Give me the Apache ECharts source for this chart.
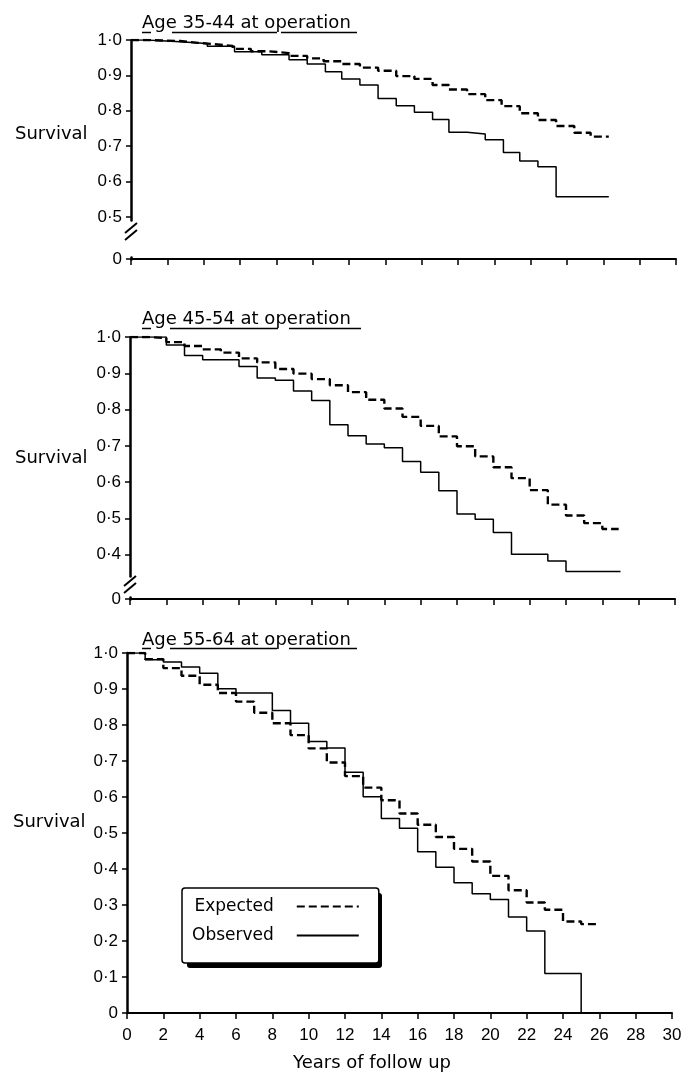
<!DOCTYPE html>
<html>
<head>
<meta charset="utf-8">
<script src="https://cdn.jsdelivr.net/npm/echarts@6.0.0/dist/echarts.min.js"></script>
<style>
  html, body { margin: 0; padding: 0; background: #fff; }
  #chart { width: 693px; height: 1073px; }
</style>
</head>
<body>
<div id="chart"></div>
<script>
// survival curves, three age groups
// age 35-44
var tExp35 = [0, 0.9, 2.7, 3.7, 4.6, 5.6, 6.6, 7.6, 8.7, 9.7, 10.6, 11.6, 12.6, 13.6, 14.6, 15.6, 16.6, 17.5, 18.5, 19.5, 20.4, 21.4, 22.4, 23.4, 24.4, 25.3, 26.3];
var sExp35 = [1.0, 0.997, 0.992, 0.988, 0.983, 0.975, 0.968, 0.963, 0.955, 0.948, 0.940, 0.932, 0.922, 0.913, 0.898, 0.890, 0.873, 0.860, 0.847, 0.830, 0.813, 0.793, 0.774, 0.757, 0.738, 0.727, 0.727];
var tObs35 = [0, 0.9, 2.7, 4.2, 5.7, 7.2, 8.7, 9.7, 10.7, 11.6, 12.6, 13.6, 14.6, 15.6, 16.6, 17.5, 18.5, 19.5, 20.5, 21.4, 22.4, 23.4, 26.3];
var sObs35 = [1.0, 0.995, 0.990, 0.982, 0.967, 0.958, 0.944, 0.932, 0.910, 0.890, 0.873, 0.835, 0.814, 0.796, 0.775, 0.739, 0.734, 0.718, 0.682, 0.658, 0.642, 0.557, 0.557];
// age 45-54
var tExp45 = [0, 1, 2, 3, 4, 5, 6, 7, 8, 9, 10, 11, 12, 13, 14, 15, 16, 17, 18, 19, 20, 21, 22, 23, 24, 25, 26, 26.9];
var sExp45 = [1.0, 0.997, 0.986, 0.975, 0.966, 0.957, 0.941, 0.930, 0.912, 0.899, 0.884, 0.867, 0.848, 0.827, 0.803, 0.780, 0.755, 0.726, 0.699, 0.671, 0.641, 0.611, 0.578, 0.538, 0.508, 0.487, 0.471, 0.471];
var tObs45 = [0, 2, 3, 4, 6, 7, 8, 9, 10, 11, 12, 13, 14, 15, 16, 17, 18, 19, 20, 21, 23, 24, 27];
var sObs45 = [1.0, 0.978, 0.949, 0.937, 0.919, 0.887, 0.881, 0.851, 0.825, 0.758, 0.728, 0.705, 0.695, 0.657, 0.627, 0.576, 0.512, 0.498, 0.461, 0.401, 0.383, 0.354, 0.354];
// age 55-64
var tExp55 = [0, 1, 2, 3, 4, 5, 6, 7, 8, 9, 10, 11, 12, 13, 14, 15, 16, 17, 18, 19, 20, 21, 22, 23, 24, 25, 26];
var sExp55 = [1.0, 0.983, 0.958, 0.937, 0.912, 0.889, 0.865, 0.834, 0.805, 0.772, 0.735, 0.696, 0.658, 0.626, 0.591, 0.554, 0.523, 0.489, 0.456, 0.421, 0.381, 0.341, 0.307, 0.287, 0.254, 0.247, 0.247];
var tObs55 = [0, 1, 2, 3, 4, 5, 6, 8, 9, 10, 11, 12, 13, 14, 15, 16, 17, 18, 19, 20, 21, 22, 23, 25, 26];
var sObs55 = [1.0, 0.981, 0.975, 0.961, 0.944, 0.901, 0.889, 0.840, 0.805, 0.754, 0.736, 0.669, 0.601, 0.540, 0.513, 0.448, 0.405, 0.362, 0.331, 0.315, 0.267, 0.228, 0.110, 0, 0];

// y tick values shown on each panel (the broken axes skip the low part)
var yTicks35 = [0, 0.5, 0.6, 0.7, 0.8, 0.9, 1.0];
var yTicks45 = [0, 0.4, 0.5, 0.6, 0.7, 0.8, 0.9, 1.0];
var yTicks55 = [0, 0.1, 0.2, 0.3, 0.4, 0.5, 0.6, 0.7, 0.8, 0.9, 1.0];

var panelTitles = ['Age 35-44 at operation', 'Age 45-54 at operation', 'Age 55-64 at operation'];

var wordFont = "'DejaVu Sans', sans-serif";
var numFont = "'Liberation Sans', 'DejaVu Sans', sans-serif";

var zip = function (t, s) {
  var out = [];
  for (var i = 0; i < t.length; i++) out.push([t[i], s[i]]);
  return out;
};

var yLabel = function (v) {
  if (v < 0.01) return '0';
  return v.toFixed(1).replace('.', '\u00b7');
};

var makeX = function (idx, showLabels) {
  return {
    type: 'value', gridIndex: idx, min: 0, max: 30, interval: 2,
    axisLine: { show: true, onZero: false, lineStyle: { color: '#000', width: 2 } },
    axisTick: { show: true, length: 6, lineStyle: { color: '#000', width: 1.5 } },
    axisLabel: { show: showLabels, color: '#000', fontFamily: numFont, fontSize: 17, margin: 14 },
    splitLine: { show: false }
  };
};

var makeY = function (idx, ticks, brk) {
  var ax = {
    type: 'value', gridIndex: idx, min: 0, max: 1, interval: 0.1,
    axisLine: { show: true, lineStyle: { color: '#000', width: 2.5 } },
    axisTick: { show: true, length: 5, customValues: ticks, lineStyle: { color: '#000', width: 1.5 } },
    axisLabel: {
      color: '#000', fontFamily: numFont, fontSize: 17, margin: 9,
      customValues: ticks, hideOverlap: false, formatter: yLabel
    },
    splitLine: { show: false }
  };
  if (brk) {
    ax.breaks = [brk];
    ax.breakArea = { show: false };
  }
  return ax;
};

var expStyle = { color: '#000', width: 2.4, type: [8, 4] };
var obsStyle = { color: '#000', width: 1.5, type: 'solid' };

var makeSeries = function (name, idx, t, s, style) {
  return {
    type: 'line', name: name, xAxisIndex: idx, yAxisIndex: idx,
    step: 'end', symbol: 'none', showSymbol: false, silent: true,
    lineStyle: style, itemStyle: { color: '#000' },
    data: zip(t, s)
  };
};

// little "//" mark where the y axis is broken
var breakMark = function (x, yc) {
  return {
    type: 'group',
    children: [
      { type: 'rect', shape: { x: x - 4, y: yc - 7, width: 8, height: 14 }, style: { fill: '#fff' }, z: 100 },
      { type: 'line', shape: { x1: x - 6, y1: yc + 1, x2: x + 6, y2: yc - 9 }, style: { stroke: '#000', lineWidth: 2 }, z: 101 },
      { type: 'line', shape: { x1: x - 6, y1: yc + 8, x2: x + 6, y2: yc - 2 }, style: { stroke: '#000', lineWidth: 2 }, z: 101 }
    ]
  };
};

var textEl = function (txt, x, y, size, align) {
  return {
    type: 'text', x: x, y: y, z: 50,
    style: { text: txt, font: size + 'px ' + wordFont, fill: '#000', align: align || 'left', verticalAlign: 'middle' }
  };
};

var underline = function (y, segs) {
  return segs.map(function (sg) {
    return { type: 'line', shape: { x1: sg[0], y1: y, x2: sg[1], y2: y }, style: { stroke: '#000', lineWidth: 1.5 }, z: 50 };
  });
};

var chart = echarts.init(document.getElementById('chart'), null, { renderer: 'canvas' });

var graphics = [
  textEl(panelTitles[0], 142, 23, 18),
  textEl(panelTitles[1], 142, 319, 18),
  textEl(panelTitles[2], 142, 640, 18),
  textEl('Survival', 15, 134, 18),
  textEl('Survival', 15, 458, 18),
  textEl('Survival', 13, 822, 18),
  textEl('Years of follow up', 372, 1063, 18, 'center'),
  breakMark(131, 232),
  breakMark(130, 585),
  // solid drop shadow behind the legend box
  { type: 'rect', shape: { x: 187, y: 893, width: 195, height: 75, r: 3 }, style: { fill: '#000' }, z: 0 }
]
  .concat(underline(32.5, [[142, 151], [172, 277], [281, 357]]))
  .concat(underline(328.5, [[142, 151], [170, 278], [289, 361]]))
  .concat(underline(648.5, [[142, 151], [170, 277], [289, 357]]));

var option = {
  animation: false,
  backgroundColor: '#fff',
  grid: [
    { left: 131, top: 40, width: 545, height: 219 },
    { left: 130, top: 337, width: 545, height: 262 },
    { left: 127, top: 653, width: 545, height: 360 }
  ],
  xAxis: [makeX(0, false), makeX(1, false), makeX(2, true)],
  yAxis: [
    makeY(0, yTicks35, { start: 0.005, end: 0.49, gap: '16.8%' }),
    makeY(1, yTicks45, { start: 0.005, end: 0.34, gap: '7.9%' }),
    makeY(2, yTicks55, null)
  ],
  legend: {
    data: ['Expected', 'Observed'],
    left: 182, top: 888, z: 10,
    orient: 'vertical', align: 'right',
    itemWidth: 62, itemHeight: 14, itemGap: 12,
    padding: [10, 19, 19, 10],
    backgroundColor: '#fff', borderColor: '#000', borderWidth: 1.5, borderRadius: 3,
    selectedMode: false,
    itemStyle: { color: 'rgba(0,0,0,0)', borderWidth: 0 },
    textStyle: { color: '#000', fontFamily: wordFont, fontSize: 17, padding: [0, 18, 0, 0] }
  },
  graphic: graphics,
  series: [
    makeSeries('Expected', 0, tExp35, sExp35, expStyle),
    makeSeries('Observed', 0, tObs35, sObs35, obsStyle),
    makeSeries('Expected', 1, tExp45, sExp45, expStyle),
    makeSeries('Observed', 1, tObs45, sObs45, obsStyle),
    makeSeries('Expected', 2, tExp55, sExp55, expStyle),
    makeSeries('Observed', 2, tObs55, sObs55, obsStyle)
  ]
};

chart.setOption(option);
</script>
</body>
</html>
